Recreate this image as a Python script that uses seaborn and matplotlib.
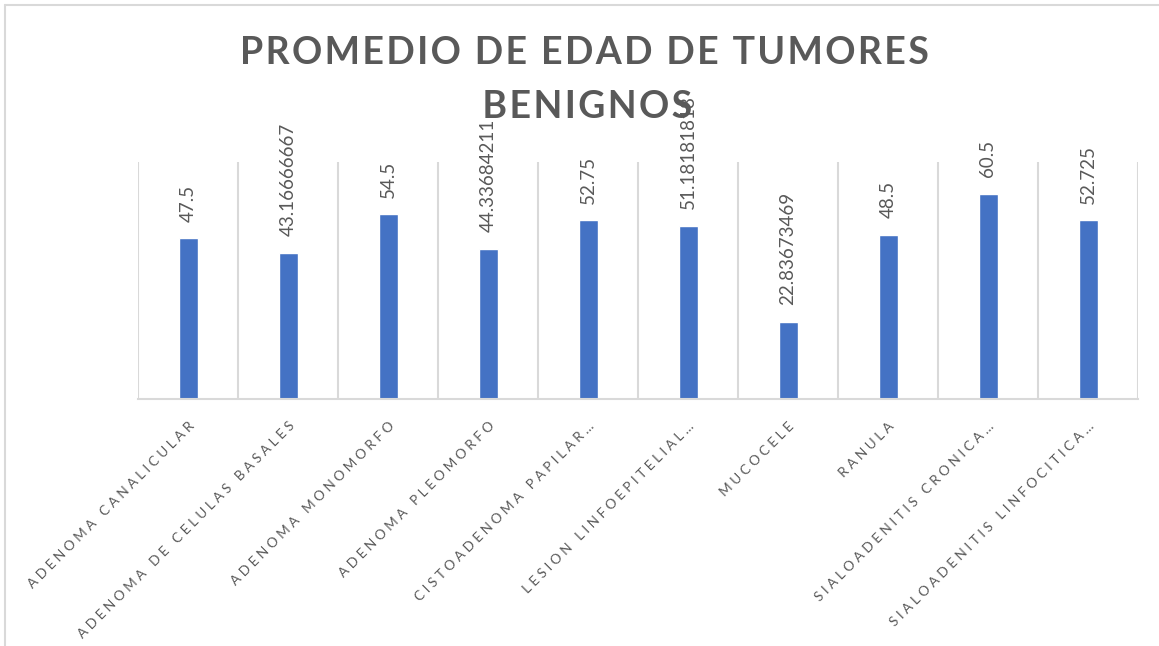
import matplotlib
matplotlib.use('Agg')
import matplotlib.pyplot as plt
from matplotlib.lines import Line2D
import seaborn as sns

sns.set_style('white')
plt.rcParams['font.family'] = ['Lato', 'DejaVu Sans']

categories = ['ADENOMA CANALICULAR', 'ADENOMA DE CELULAS BASALES', 'ADENOMA MONOMORFO',
              'ADENOMA PLEOMORFO', 'CISTOADENOMA PAPILAR…', 'LESION LINFOEPITELIAL…',
              'MUCOCELE', 'RANULA', 'SIALOADENITIS CRONICA…', 'SIALOADENITIS LINFOCITICA…']
values = [47.5, 43.16666667, 54.5, 44.33684211, 52.75, 51.18181818,
          22.83673469, 48.5, 60.5, 52.725]
title = 'PROMEDIO DE EDAD DE TUMORES\nBENIGNOS'

gray = '#595959'
grid = '#d9d9d9'
blue = '#4472C4'


def spaced(s, sep='\u2009'):
    # excel style letter spacing
    return sep.join(s)


fig = plt.figure(figsize=(11.59, 6.46), dpi=100)
ax = fig.add_axes([138 / 1159, 1 - 399 / 646, 1000 / 1159, 237 / 646])

sns.barplot(x=categories, y=values, color=blue, saturation=1, width=0.19, ax=ax)

n = len(categories)
ax.set_xlim(-0.5, n - 0.5)
ax.set_ylim(0, 70)
ax.set_xticks(range(n))
ax.set_xticklabels([spaced(c, '\u2009\u2009') for c in categories], rotation=45, ha='right',
                   rotation_mode='anchor', fontsize=9.8, color=gray)
ax.set_xticks([i - 0.5 for i in range(n + 1)], minor=True)
ax.tick_params(axis='x', which='both', length=0, pad=15)
ax.set_yticks([])
ax.grid(which='minor', axis='x', color=grid, lw=1.5)
ax.set_xlabel('')
ax.set_ylabel('')
for side in ['top', 'left', 'right']:
    ax.spines[side].set_visible(False)
ax.spines['bottom'].set_color(grid)
ax.spines['bottom'].set_linewidth(1.5)

ax.bar_label(ax.containers[0], labels=[f'{v:.10g}' for v in values],
             rotation=90, padding=12, color=gray, fontsize=13.5)

fig.text(586 / 1159, 1 - 36 / 646, spaced(title, '\u200a'), ha='center', va='top',
         fontsize=27, fontweight='bold', color=gray, linespacing=1.7)

# chart frame
fig.add_artist(Line2D([5 / 1159, 1], [1 - 5 / 646, 1 - 5 / 646], color=grid, lw=1.5,
                      transform=fig.transFigure))
fig.add_artist(Line2D([5 / 1159, 5 / 1159], [0, 1 - 5 / 646], color=grid, lw=1.5,
                      transform=fig.transFigure))

fig.savefig('out.png', dpi=100)
